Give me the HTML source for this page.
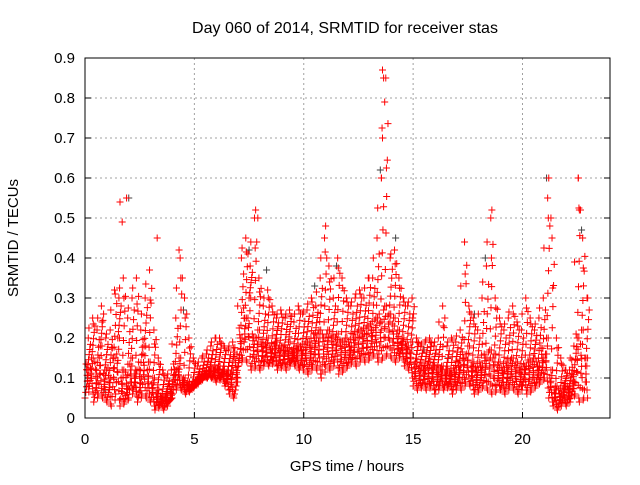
<!DOCTYPE html>
<html><head><meta charset="utf-8"><style>
body{margin:0;background:#fff}
svg text{font-family:"Liberation Sans",sans-serif;font-size:15px;fill:#000}
</style></head><body>
<svg id="chart" width="640" height="480">
<text x="345" y="33" text-anchor="middle" style="font-size:16px">Day 060 of 2014, SRMTID for receiver stas</text>
<text x="347" y="471" text-anchor="middle">GPS time / hours</text>
<text transform="translate(18,238) rotate(-90)" text-anchor="middle">SRMTID / TECUs</text>
<g id="grid"></g><g id="ticks"></g><g id="marks"></g>
<rect x="85" y="58" width="525" height="360" fill="none" stroke="#000"/>
</svg>
<script>
const xTicks=[0,5,10,15,20];
const yTicks=[0,0.1,0.2,0.3,0.4,0.5,0.6,0.7,0.8,0.9];
const yTickLabels=["0","0.1","0.2","0.3","0.4","0.5","0.6","0.7","0.8","0.9"];
const times=[0,0.2,0.4,0.6,0.8,1,1.2,1.4,1.6,1.8,2,2.2,2.4,2.6,2.8,3,3.2,3.4,3.6,3.8,4,4.2,4.4,4.6,4.8,5,5.2,5.4,5.6,5.8,6,6.2,6.4,6.6,6.8,7,7.2,7.4,7.6,7.8,8,8.2,8.4,8.6,8.8,9,9.2,9.4,9.6,9.8,10,10.2,10.4,10.6,10.8,11,11.2,11.4,11.6,11.8,12,12.2,12.4,12.6,12.8,13,13.2,13.4,13.6,13.8,14,14.2,14.4,14.6,14.8,15,15.2,15.4,15.6,15.8,16,16.2,16.4,16.6,16.8,17,17.2,17.4,17.6,17.8,18,18.2,18.4,18.6,18.8,19,19.2,19.4,19.6,19.8,20,20.2,20.4,20.6,20.8,21,21.2,21.4,21.6,21.8,22,22.2,22.4,22.6,22.8];
const lowVals=[0.05,0.08,0.04,0.06,0.05,0.04,0.03,0.06,0.03,0.04,0.05,0.07,0.04,0.06,0.05,0.04,0.02,0.03,0.02,0.04,0.06,0.08,0.07,0.06,0.07,0.08,0.09,0.1,0.1,0.1,0.09,0.1,0.08,0.06,0.05,0.13,0.15,0.14,0.12,0.13,0.12,0.14,0.13,0.14,0.12,0.13,0.12,0.14,0.13,0.12,0.12,0.11,0.13,0.12,0.1,0.13,0.12,0.14,0.11,0.12,0.13,0.14,0.13,0.15,0.14,0.15,0.16,0.14,0.15,0.16,0.15,0.14,0.16,0.13,0.12,0.08,0.07,0.08,0.07,0.08,0.06,0.08,0.07,0.08,0.06,0.08,0.07,0.09,0.08,0.06,0.07,0.08,0.07,0.06,0.07,0.07,0.06,0.08,0.07,0.06,0.08,0.06,0.07,0.08,0.09,0.1,0.05,0.03,0.02,0.04,0.03,0.05,0.06,0.04,0.05];
const midVals=[0.12,0.15,0.1,0.18,0.12,0.1,0.15,0.2,0.12,0.08,0.15,0.12,0.1,0.18,0.14,0.1,0.07,0.05,0.06,0.05,0.12,0.15,0.1,0.09,0.08,0.09,0.1,0.11,0.12,0.12,0.13,0.12,0.11,0.12,0.1,0.2,0.25,0.3,0.2,0.22,0.18,0.2,0.17,0.19,0.18,0.17,0.19,0.16,0.18,0.17,0.19,0.18,0.2,0.22,0.2,0.22,0.2,0.21,0.19,0.2,0.18,0.2,0.22,0.21,0.23,0.22,0.25,0.24,0.28,0.26,0.25,0.22,0.2,0.18,0.19,0.14,0.13,0.12,0.14,0.13,0.12,0.13,0.12,0.11,0.12,0.13,0.15,0.18,0.14,0.12,0.13,0.15,0.17,0.16,0.14,0.12,0.13,0.15,0.14,0.12,0.13,0.14,0.15,0.13,0.15,0.2,0.12,0.08,0.06,0.08,0.07,0.09,0.2,0.22,0.15];
const highVals=[0.2,0.25,0.22,0.28,0.2,0.22,0.32,0.3,0.35,0.25,0.3,0.35,0.22,0.3,0.37,0.22,0.15,0.12,0.1,0.12,0.25,0.4,0.3,0.2,0.15,0.13,0.15,0.16,0.18,0.2,0.2,0.18,0.17,0.19,0.16,0.4,0.45,0.38,0.5,0.35,0.28,0.32,0.28,0.25,0.27,0.25,0.27,0.24,0.28,0.26,0.27,0.3,0.28,0.35,0.45,0.38,0.3,0.4,0.35,0.3,0.28,0.3,0.32,0.3,0.35,0.35,0.45,0.6,0.85,0.4,0.42,0.35,0.3,0.28,0.3,0.2,0.18,0.19,0.2,0.18,0.2,0.28,0.18,0.2,0.19,0.22,0.44,0.28,0.25,0.22,0.3,0.38,0.5,0.3,0.25,0.22,0.25,0.28,0.24,0.22,0.3,0.25,0.22,0.25,0.3,0.55,0.45,0.2,0.15,0.12,0.12,0.18,0.6,0.45,0.3];
const spikeTimes=[1.6,1.7,1.9,3.3,4.3,7.8,7.9,11.0,13.6,13.65,13.7,13.6,13.55,18.6,21.2,21.3,22.55,22.6];
const spikeVals=[0.54,0.49,0.55,0.45,0.42,0.52,0.5,0.48,0.87,0.85,0.79,0.7,0.6,0.52,0.6,0.5,0.6,0.52];
const grayTimes=[0.9,2.0,4.5,7.5,8.3,10.5,11.5,13.5,14.2,15.5,16.6,17.8,18.3,19.3,21.1,22.7];
const grayVals=[0.07,0.55,0.27,0.42,0.37,0.33,0.38,0.62,0.45,0.17,0.15,0.26,0.4,0.1,0.6,0.47];

const X=v=>85+v*(525/24), Y=v=>418-v*400;
const NS="http://www.w3.org/2000/svg";
const grid=document.getElementById('grid'),ticks=document.getElementById('ticks'),marks=document.getElementById('marks');
function el(tag,attrs,parent){const e=document.createElementNS(NS,tag);for(const k in attrs)e.setAttribute(k,attrs[k]);parent.appendChild(e);return e;}
xTicks.forEach(t=>{
  const g=el('line',{x1:X(t),x2:X(t),y1:58,y2:418,stroke:'#a0a0a0','stroke-dasharray':'2,3'},grid);
  
  
  el('line',{x1:X(t),x2:X(t),y1:418,y2:412,stroke:'#000'},ticks);
  const tx=el('text',{x:X(t),y:444,'text-anchor':'middle'},ticks);tx.textContent=t;
  
  
});
yTicks.forEach((t,i)=>{
  const g=el('line',{x1:85,x2:610,y1:Y(t),y2:Y(t),stroke:'#a0a0a0','stroke-dasharray':'2,3'},grid);
  
  
  el('line',{x1:85,x2:91,y1:Y(t),y2:Y(t),stroke:'#000'},ticks);
  el('line',{x1:610,x2:604,y1:Y(t),y2:Y(t),stroke:'#000'},ticks);
  const tx=el('text',{x:75,y:Y(t)+5,'text-anchor':'end'},ticks);tx.textContent=yTickLabels[i];
  
  
});
function plus(t,v,c){
  const x=X(t),y=Y(v);
  const p=el('path',{d:`M${x-3.5} ${y}H${x+3.5}M${x} ${y-3.5}V${y+3.5}`,stroke:c,'stroke-width':1,fill:'none'},marks);
  
  
}
grayTimes.forEach((t,i)=>plus(t,grayVals[i],'#404040'));
times.forEach((t,i)=>{
  const lo=lowVals[i],md=midVals[i],hi=highVals[i];
  const n=i+1<times.length?i+1:i;
  const lo2=lowVals[n],md2=midVals[n],hi2=highVals[n];
  const ws=[0,0.2,0.4,0.6,0.8,1];
  ws.forEach((w,k)=>{
    plus(t+k*0.035,lo+(md-lo)*w,'#f00');
    plus(t+0.1+k*0.03,md+(hi-md)*w*0.8,'#f00');
    plus(t+0.05+k*0.025,((lo+lo2)/2)+(((md+md2)/2)-((lo+lo2)/2))*(1-w),'#f00');
  });
  plus(t+0.15,hi,'#f00');plus(t+0.18,(hi+hi2)/2,'#f00');
});
spikeTimes.forEach((t,i)=>plus(t,spikeVals[i],'#f00'));
</script>
</body></html>
